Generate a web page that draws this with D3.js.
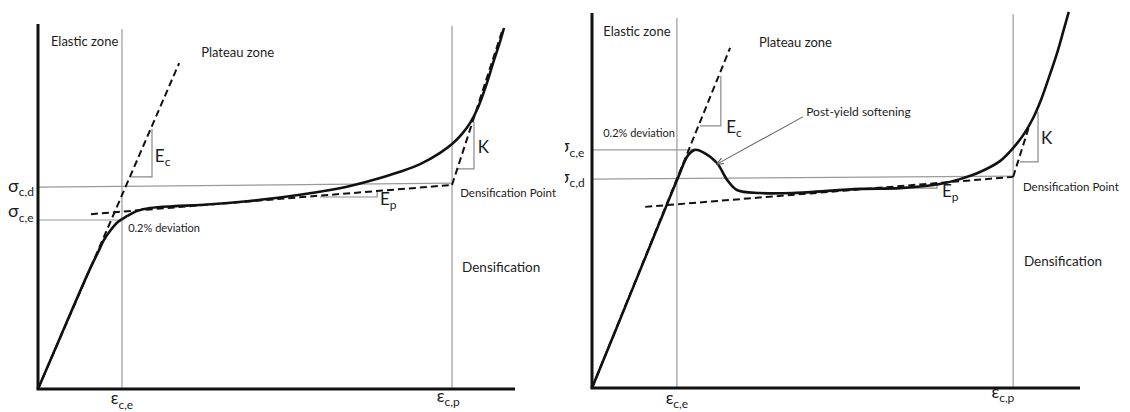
<!DOCTYPE html>
<html>
<head>
<meta charset="utf-8">
<script src="https://cdn.jsdelivr.net/npm/d3@7"></script>
<style>
  body { margin: 0; background: #fff; }
  svg { display: block; }
  text { font-family: Lato, "Open Sans", sans-serif; fill: #1c1c1c; }
</style>
</head>
<body>
<svg id="chart" width="1130" height="412"></svg>
<script>
// Normalised strain (x) and stress (y), both on a 0–100 scale per panel.

// ---- Panel A: foam without post-yield softening ----
const curveA = [[0,0],[4.6,14.0],[10.9,32.9],[12.6,37.5],[13.8,40.8],[15.1,43.3],[16.8,45.8],
  [18.7,47.4],[20.8,48.8],[23.5,49.6],[28.7,50.1],[34.0,50.4],[44.4,51.5],[54.9,53.2],[61.2,54.5],
  [65.4,55.6],[71.7,57.8],[75.9,59.5],[80.1,61.6],[84.3,64.7],[86.8,67.1],[88.9,69.9],[90.6,72.9],
  [92.2,77.0],[93.9,83.0],[95.6,90.1],[96.9,95.3],[97.7,98.9]];
const elasticTangentA = [[0,0],[29.6,89.3]];
const plateauTangentA = [[11.1,47.9],[86.8,55.9]];
const densTangentA = [[86.8,55.9],[97.5,98.9]];
const strainMarksA = [17.6, 86.8];          // ε_c,e , ε_c,p
const strainMarkTopsA = [98.6, 99.5];
const sigmaElasticA = [[0,46.3],[17.6,46.3]];
const sigmaDensA = [[0,55.3],[86.8,56.4]];
const slopeEcA = [[19.5,58.1],[23.9,58.1],[23.9,71.2]];
const slopeEpA = [[59.1,52.6],[71.1,52.6],[71.1,54.2]];
const slopeKA = [[87.8,60.3],[91.4,60.3],[91.4,73.2]];

// ---- Panel B: foam with post-yield softening ----
const curveB = [[0,0],[9.2,29.3],[13.9,44.3],[17.6,56.0],[19.7,62.1],[21.1,63.5],[22.7,62.9],
  [25.6,60.0],[27.7,55.5],[29.7,52.8],[34.4,52.0],[41.2,52.0],[54.9,53.1],[63.1,53.3],[71.3,54.4],
  [75.4,55.7],[79.5,57.6],[83.6,60.5],[86.3,64.0],[88.5,67.7],[90.4,72.0],[92.0,76.8],[93.6,82.7],
  [95.3,89.3],[96.7,95.7],[97.7,100.3]];
const elasticTangentB = [[0,0],[28.3,90.7]];
const plateauTangentB = [[10.9,48.3],[86.3,56.3]];
const densTangentB = [[86.3,56.3],[89.8,70.7]];
const strainMarksB = [17.4, 86.3];
const strainMarkTopsB = [98.7, 99.7];
const sigmaElasticB = [[0,63.5],[22.1,63.5]];
const sigmaDensB = [[0,55.7],[86.3,56.5]];
const slopeEcB = [[22.1,69.9],[26.4,69.9],[26.4,83.2]];
const slopeEpB = [[58.6,53.3],[70.7,53.3],[70.7,54.7]];
const slopeKB = [[87.7,60.3],[91.4,60.3],[91.4,73.6]];
const softeningPointer = [[43.2,72.3],[25.6,59.7]];

const svg = d3.select("#chart");

const defs = svg.append("defs");
defs.append("clipPath").attr("id", "clipB")
  .append("rect").attr("x", 565).attr("y", 0).attr("width", 565).attr("height", 412);
defs.append("marker")
  .attr("id", "arrowHead").attr("viewBox", "0 0 10 10").attr("refX", 9).attr("refY", 5)
  .attr("markerWidth", 7).attr("markerHeight", 7).attr("orient", "auto")
  .append("path").attr("d", "M0,1 L10,5 L0,9").attr("fill", "none")
  .attr("stroke", "#555").attr("stroke-width", 1.4);

function subLabel(g, x, y, main, sub, size, subSize, anchor) {
  const t = g.append("text").attr("x", x).attr("y", y)
    .attr("font-size", size).attr("text-anchor", anchor || "start");
  t.append("tspan").text(main);
  t.append("tspan").attr("font-size", subSize).attr("dy", size * 0.25).text(sub);
  return t;
}

function drawPanel(cfg) {
  const g = svg.append("g");
  if (cfg.clip) g.attr("clip-path", "url(#" + cfg.clip + ")");
  const x = d3.scaleLinear().domain([0, 100]).range(cfg.xRange);
  const y = d3.scaleLinear().domain([0, 100]).range(cfg.yRange);
  const line = d3.line().x(d => x(d[0])).y(d => y(d[1]));
  const smooth = d3.line().x(d => x(d[0])).y(d => y(d[1])).curve(d3.curveCatmullRom.alpha(0.5));

  // reference lines at the characteristic strains and stresses
  cfg.strainMarks.forEach((s, i) => {
    g.append("line").attr("x1", x(s)).attr("x2", x(s))
      .attr("y1", y(0)).attr("y2", y(cfg.strainMarkTops[i]))
      .attr("stroke", "#9a9a9a").attr("stroke-width", 1.2);
  });
  [cfg.sigmaElastic, cfg.sigmaDens].forEach(d => {
    g.append("path").attr("d", line(d)).attr("fill", "none")
      .attr("stroke", "#9a9a9a").attr("stroke-width", 1.2);
  });
  // slope triangles
  [cfg.slopeEc, cfg.slopeEp, cfg.slopeK].forEach(d => {
    g.append("path").attr("d", line(d)).attr("fill", "none")
      .attr("stroke", "#8a8a8a").attr("stroke-width", 1.2);
  });

  // tangent lines
  [cfg.elasticTangent, cfg.plateauTangent, cfg.densTangent].forEach(d => {
    g.append("path").attr("d", line(d)).attr("fill", "none")
      .attr("stroke", "#111").attr("stroke-width", 2).attr("stroke-dasharray", "7,4");
  });

  // stress–strain curve
  g.append("path").attr("d", smooth(cfg.curve)).attr("fill", "none")
    .attr("stroke", "#111").attr("stroke-width", 2.6).attr("stroke-linejoin", "round");

  // axes
  g.append("line").attr("x1", x(0)).attr("x2", x(0)).attr("y1", y(0)).attr("y2", y(100))
    .attr("stroke", "#111").attr("stroke-width", 3);
  g.append("line").attr("x1", x(0) - 1.5).attr("x2", x(100)).attr("y1", y(0)).attr("y2", y(0))
    .attr("stroke", "#111").attr("stroke-width", 3);

  if (cfg.pointer) {
    g.append("path").attr("d", line(cfg.pointer)).attr("fill", "none")
      .attr("stroke", "#666").attr("stroke-width", 1.1).attr("marker-end", "url(#arrowHead)");
  }

  // annotations
  const L = cfg.labels;
  g.append("text").attr("x", x(L.elastic[0])).attr("y", y(L.elastic[1])).attr("font-size", 13).text("Elastic zone");
  g.append("text").attr("x", x(L.plateau[0])).attr("y", y(L.plateau[1])).attr("font-size", 13).text("Plateau zone");
  g.append("text").attr("x", x(L.dev[0])).attr("y", y(L.dev[1])).attr("font-size", 11).text("0.2% deviation");
  g.append("text").attr("x", x(L.densPt[0])).attr("y", y(L.densPt[1])).attr("font-size", 11.5).text("Densification Point");
  g.append("text").attr("x", x(L.dens[0])).attr("y", y(L.dens[1])).attr("font-size", 13.5).text("Densification");
  if (L.soft) g.append("text").attr("x", x(L.soft[0])).attr("y", y(L.soft[1])).attr("font-size", 12).text("Post-yield softening");
  subLabel(g, x(L.Ec[0]), y(L.Ec[1]), "E", "c", 17, 12);
  subLabel(g, x(L.Ep[0]), y(L.Ep[1]), "E", "p", 17, 12);
  g.append("text").attr("x", x(L.K[0])).attr("y", y(L.K[1])).attr("font-size", 17).text("K");
  subLabel(g, x(L.sd[0]), y(L.sd[1]), "σ", "c,d", 18, 12);
  subLabel(g, x(L.se[0]), y(L.se[1]), "σ", "c,e", 18, 12);
  subLabel(g, x(L.ee[0]), y(L.ee[1]), "ε", "c,e", 17, 12, "middle");
  subLabel(g, x(L.ep[0]), y(L.ep[1]), "ε", "c,p", 17, 12, "middle");
}

drawPanel({
  xRange: [38, 515], yRange: [389, 24],
  curve: curveA, elasticTangent: elasticTangentA, plateauTangent: plateauTangentA, densTangent: densTangentA,
  strainMarks: strainMarksA, strainMarkTops: strainMarkTopsA,
  sigmaElastic: sigmaElasticA, sigmaDens: sigmaDensA,
  slopeEc: slopeEcA, slopeEp: slopeEpA, slopeK: slopeKA,
  labels: {
    elastic: [2.7, 94.0], plateau: [34.2, 91.0], dev: [18.9, 43.0], densPt: [88.5, 52.6], dens: [88.9, 32.1],
    Ec: [24.5, 62.2], Ep: [71.7, 50.4], K: [92.2, 64.7],
    sd: [-6.3, 54.0], se: [-6.3, 47.1], ee: [17.6, -4.2], ep: [86.0, -3.6]
  }
});

drawPanel({
  clip: "clipB",
  xRange: [592, 1080], yRange: [388, 13],
  curve: curveB, elasticTangent: elasticTangentB, plateauTangent: plateauTangentB, densTangent: densTangentB,
  strainMarks: strainMarksB, strainMarkTops: strainMarkTopsB,
  sigmaElastic: sigmaElasticB, sigmaDens: sigmaDensB,
  slopeEc: slopeEcB, slopeEp: slopeEpB, slopeK: slopeKB,
  pointer: softeningPointer,
  labels: {
    elastic: [2.3, 93.9], plateau: [34.2, 90.9], dev: [2.3, 66.9], densPt: [88.3, 52.5], dens: [88.5, 32.5],
    soft: [43.9, 72.5], Ec: [27.5, 68.0], Ep: [71.7, 50.9], K: [92.0, 65.1],
    sd: [-6.8, 54.7], se: [-6.8, 62.9], ee: [17.4, -4.3], ep: [84.2, -2.7]
  }
});
</script>
</body>
</html>
